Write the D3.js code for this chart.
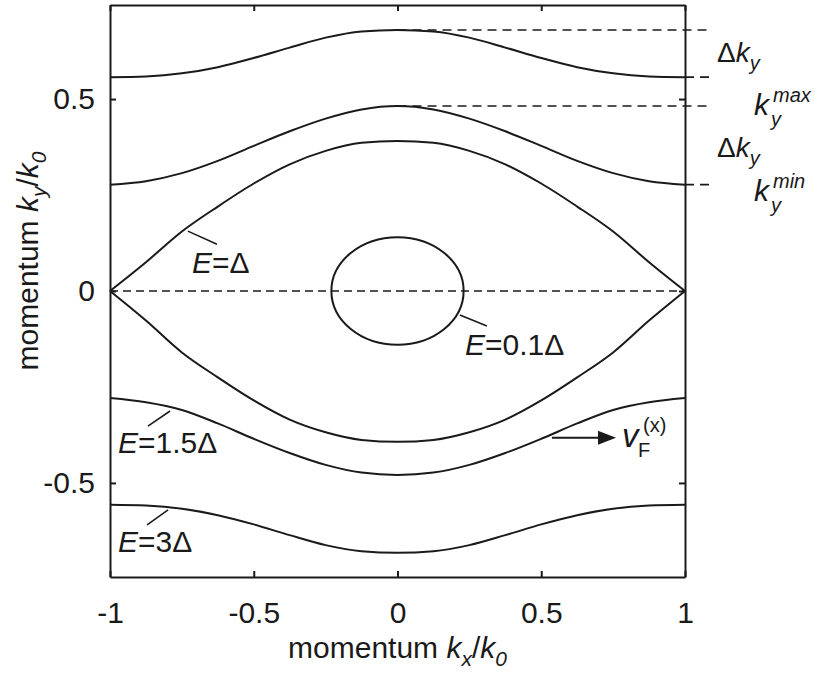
<!DOCTYPE html>
<html>
<head>
<meta charset="utf-8">
<script src="https://cdn.jsdelivr.net/npm/d3@7"></script>
<style>
  html, body { margin: 0; padding: 0; background: #fff; }
  svg { display: block; font-family: "Liberation Sans", Arial, Helvetica, sans-serif; }
</style>
</head>
<body>
<svg id="chart" width="815" height="673"></svg>
<script>
// Constant-energy contours in momentum space (k_x/k_0, k_y/k_0)
const kxGrid = [-1, -0.875, -0.75, -0.625, -0.5, -0.375, -0.25, -0.125, 0,
                0.125, 0.25, 0.375, 0.5, 0.625, 0.75, 0.875, 1];

// E = 3Δ, upper and lower branches
const e3Upper = [0.557, 0.559, 0.567, 0.583, 0.607, 0.634, 0.660, 0.676, 0.680,
                 0.676, 0.660, 0.634, 0.607, 0.583, 0.567, 0.559, 0.557];
const e3Lower = [-0.557, -0.559, -0.567, -0.584, -0.608, -0.636, -0.662, -0.678, -0.682,
                 -0.678, -0.662, -0.636, -0.608, -0.584, -0.567, -0.559, -0.557];

// E = 1.5Δ, upper and lower branches
const e15Upper = [0.277, 0.286, 0.307, 0.339, 0.378, 0.416, 0.449, 0.473, 0.482,
                  0.473, 0.449, 0.416, 0.378, 0.339, 0.307, 0.286, 0.277];
const e15Lower = [-0.279, -0.290, -0.310, -0.345, -0.385, -0.422, -0.453, -0.473, -0.479,
                  -0.473, -0.453, -0.422, -0.385, -0.345, -0.310, -0.290, -0.279];

// E = Δ, the lens closing at k_x = ±1
const e1Upper = [0, 0.075, 0.155, 0.220, 0.280, 0.330, 0.365, 0.386, 0.391,
                 0.386, 0.365, 0.330, 0.280, 0.220, 0.155, 0.075, 0];
const e1Lower = [0, -0.077, -0.160, -0.225, -0.285, -0.335, -0.368, -0.388, -0.393,
                 -0.388, -0.368, -0.335, -0.285, -0.225, -0.160, -0.077, 0];

// E = 0.1Δ, small closed ring around the origin
const ringCenter = [0, 0];
const ringRadii = [0.23, 0.14];

const xTicks = [-1, -0.5, 0, 0.5, 1];
const yTicks = [-0.5, 0, 0.5];

// ---- layout ----
const plot = { left: 110, right: 685, top: 5, bottom: 577 };
const fontSize = 30;
const ink = "#1a1a1a";

const svg = d3.select("#chart");
const x = d3.scaleLinear().domain([-1, 1]).range([plot.left, plot.right]);
const y = d3.scaleLinear().domain([-0.745, 0.745]).range([plot.bottom, plot.top]);

const line = d3.line()
  .x(d => x(d[0]))
  .y(d => y(d[1]))
  .curve(d3.curveMonotoneX);

const branches = [e3Upper, e3Lower, e15Upper, e15Lower, e1Upper, e1Lower];

// dashed reference lines
const dashed = svg.append("g")
  .attr("fill", "none").attr("stroke", ink).attr("stroke-width", 1.6);

dashed.append("line")
  .attr("x1", x(-1)).attr("x2", x(1))
  .attr("y1", y(0)).attr("y2", y(0))
  .attr("stroke-dasharray", "8,5");

const rightEnd = plot.right + 25;
const kyLevels = [
  { ky: d3.max(e3Upper), from: 0 },
  { ky: e3Upper[e3Upper.length - 1], from: 1 },
  { ky: d3.max(e15Upper), from: 0 },
  { ky: e15Upper[e15Upper.length - 1], from: 1 }
];
dashed.selectAll("line.level")
  .data(kyLevels)
  .join("line")
  .attr("class", "level")
  .attr("x1", d => x(d.from)).attr("x2", rightEnd)
  .attr("y1", d => y(d.ky)).attr("y2", d => y(d.ky))
  .attr("stroke-dasharray", "9,6");

// contour curves
const curves = svg.append("g")
  .attr("fill", "none").attr("stroke", ink).attr("stroke-width", 2);

curves.selectAll("path")
  .data(branches)
  .join("path")
  .attr("d", vals => line(vals.map((v, i) => [kxGrid[i], v])));

curves.append("ellipse")
  .attr("cx", x(ringCenter[0])).attr("cy", y(ringCenter[1]))
  .attr("rx", x(ringRadii[0]) - x(0))
  .attr("ry", y(0) - y(ringRadii[1]));

// axes with inward ticks and a closed frame
const tickLen = 6;
const fmt = d => String(d);
const axisStyle = g => {
  g.selectAll("path.domain").attr("stroke", ink).attr("stroke-width", 2);
  g.selectAll(".tick line").attr("stroke", ink).attr("stroke-width", 2);
  g.selectAll("text").attr("font-size", fontSize).attr("fill", ink)
    .attr("font-family", "Liberation Sans, Arial, sans-serif");
};

svg.append("g")
  .attr("transform", `translate(0,${plot.bottom})`)
  .call(d3.axisBottom(x).tickValues(xTicks).tickSizeInner(-tickLen).tickSizeOuter(0)
        .tickPadding(25).tickFormat(fmt))
  .call(axisStyle);

svg.append("g")
  .attr("transform", `translate(0,${plot.top})`)
  .call(d3.axisTop(x).tickValues(xTicks).tickSizeInner(-tickLen).tickSizeOuter(0).tickFormat(""))
  .call(axisStyle);

svg.append("g")
  .attr("transform", `translate(${plot.left},0)`)
  .call(d3.axisLeft(y).tickValues(yTicks).tickSizeInner(-tickLen).tickSizeOuter(0)
        .tickPadding(15).tickFormat(fmt))
  .call(axisStyle);

svg.append("g")
  .attr("transform", `translate(${plot.right},0)`)
  .call(d3.axisRight(y).tickValues(yTicks).tickSizeInner(-tickLen).tickSizeOuter(0).tickFormat(""))
  .call(axisStyle);

// axis titles
function momentumTitle(sel, sub) {
  sel.append("tspan").text("momentum ");
  sel.append("tspan").attr("font-style", "italic").text("k");
  sel.append("tspan").attr("font-style", "italic").attr("font-size", 21).attr("dy", 8).text(sub);
  sel.append("tspan").attr("dy", -8).text("/");
  sel.append("tspan").attr("font-style", "italic").text("k");
  sel.append("tspan").attr("font-style", "italic").attr("font-size", 21).attr("dy", 8).text("0");
}

svg.append("text")
  .attr("x", (plot.left + plot.right) / 2).attr("y", 658)
  .attr("text-anchor", "middle").attr("font-size", fontSize).attr("fill", ink)
  .call(momentumTitle, "x");

svg.append("text")
  .attr("transform", `translate(38,${(plot.top + plot.bottom) / 2 - 30}) rotate(-90)`)
  .attr("text-anchor", "middle").attr("font-size", fontSize).attr("fill", ink)
  .call(momentumTitle, "y");

// energy labels with leader lines (positions in k-space)
const energyLabels = [
  { text: "=Δ",    at: [-0.715, 0.047],  lead: [[-0.729, 0.156], [-0.628, 0.122]] },
  { text: "=0.1Δ", at: [0.235, -0.167],  lead: [[0.217, -0.0625], [0.311, -0.091]] },
  { text: "=1.5Δ", at: [-0.972, -0.422], lead: [[-0.791, -0.3125], [-0.868, -0.352]] },
  { text: "=3Δ",   at: [-0.972, -0.680], lead: [[-0.798, -0.570], [-0.871, -0.609]] }
];
const labels = svg.append("g").attr("fill", ink);
energyLabels.forEach(l => {
  labels.append("line")
    .attr("x1", x(l.lead[0][0])).attr("y1", y(l.lead[0][1]))
    .attr("x2", x(l.lead[1][0])).attr("y2", y(l.lead[1][1]))
    .attr("stroke", ink).attr("stroke-width", 1.6);
  const t = labels.append("text")
    .attr("x", x(l.at[0])).attr("y", y(l.at[1]))
    .attr("font-size", 30);
  t.append("tspan").attr("font-style", "italic").text("E");
  t.append("tspan").text(l.text);
});

// group velocity arrow on the lower E = 1.5Δ branch
const vArrow = { from: [0.537, -0.382], to: [0.76, -0.382] };
const ax0 = x(vArrow.from[0]), ax1 = x(vArrow.to[0]), ay = y(vArrow.from[1]);
labels.append("line")
  .attr("x1", ax0).attr("x2", ax1 - 14).attr("y1", ay).attr("y2", ay)
  .attr("stroke", ink).attr("stroke-width", 2);
labels.append("path")
  .attr("d", `M${ax1},${ay} L${ax1 - 18},${ay - 7} L${ax1 - 18},${ay + 7} Z`);
labels.append("text").attr("x", ax1 + 6).attr("y", ay + 9)
  .attr("font-size", 33).attr("font-style", "italic").text("v");
labels.append("text").attr("x", ax1 + 22).attr("y", ay + 19)
  .attr("font-size", 20).text("F");
labels.append("text").attr("x", ax1 + 27).attr("y", ay - 6)
  .attr("font-size", 20).text("(x)");

// right-hand annotations for the k_y extent of the E = 1.5Δ and 3Δ contours
const side = svg.append("g").attr("fill", ink);
function deltaKy(yb) {
  const t = side.append("text").attr("x", 717).attr("y", yb).attr("font-size", 28);
  t.append("tspan").text("Δ");
  t.append("tspan").attr("font-style", "italic").text("k");
  t.append("tspan").attr("font-style", "italic").attr("font-size", 20).attr("dy", 8).text("y");
}
function kyBound(yb, sup) {
  side.append("text").attr("x", 754).attr("y", yb).attr("font-size", 30)
    .attr("font-style", "italic").text("k");
  side.append("text").attr("x", 771).attr("y", yb + 11).attr("font-size", 20)
    .attr("font-style", "italic").text("y");
  side.append("text").attr("x", 773).attr("y", yb - 13).attr("font-size", 20)
    .attr("font-style", "italic").text(sup);
}
deltaKy(y((d3.max(e3Upper) + e3Upper[0]) / 2) + 8);
kyBound(y(d3.max(e15Upper)) + 9, "max");
deltaKy(y((d3.max(e15Upper) + e15Upper[0]) / 2) + 12);
kyBound(y(e15Upper[0]) + 16, "min");
</script>
</body>
</html>
